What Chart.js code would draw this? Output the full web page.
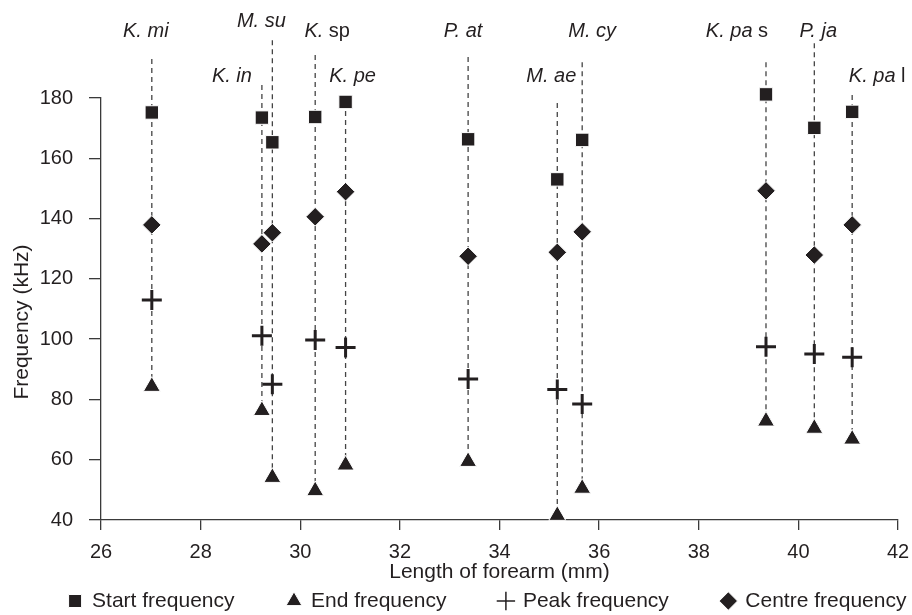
<!DOCTYPE html>
<html>
<head>
<meta charset="utf-8">
<script src="https://cdn.jsdelivr.net/npm/chart.js@4.4.1/dist/chart.umd.min.js"></script>
<style>
html,body{margin:0;padding:0;background:#ffffff;}
#wrap{width:912px;height:615px;}
</style>
</head>
<body>
<div id="wrap"><canvas id="c" width="912" height="615"></canvas></div>
<script>
// ---------- data ----------
const species     = ['K. mi','K. in','M. su','K. sp','K. pe','P. at','M. ae','M. cy','K. pa s','P. ja','K. pa l'];
const labelItalic = ['K. mi','K. in','M. su','K.','K. pe','P. at','M. ae','M. cy','K. pa','P. ja','K. pa'];
const labelRoman  = ['','','',' sp','','','','',' s','',' l'];
const forearm     = [27.02, 29.23, 29.44, 30.30, 30.91, 33.37, 35.16, 35.66, 39.35, 40.32, 41.08];
const startFreq   = [175.2, 173.5, 165.3, 173.7, 178.7, 166.3, 153.0, 166.1, 181.2, 170.1, 175.4];
const centreFreq  = [137.9, 131.6, 135.3, 140.6, 148.9, 127.5, 128.8, 135.6, 149.2, 127.9, 137.9];
const peakFreq    = [113.0, 101.1,  85.0,  99.7,  97.2,  86.8,  83.3,  78.5,  97.5,  95.1,  94.0];
const endFreq     = [ 84.3,  76.3,  54.1,  49.7,  58.2,  59.4,  41.5,  50.5,  72.8,  70.4,  66.8];
const lineTop     = [192.9, 184.3, 199.2, 194.3, 178.7, 193.6, 178.3, 191.9, 191.9, 198.2, 181.0];
const xTicks = [26, 28, 30, 32, 34, 36, 38, 40, 42];
const yTicks = [40, 60, 80, 100, 120, 140, 160, 180];

// ---------- label layout (annotation placement) ----------
const labelDx = [-6, -30, -11, 12, 7, -5, -6, 10, -29, 4, 25];          // px from line
const labelY  = [202.0, 187.2, 205.3, 202.0, 187.2, 202.0, 187.0, 202.0, 202.0, 202.0, 187.0]; // kHz

// ---------- style ----------
const INK = '#231f20';
const AX = '#3a3a3a';
const FONT = "'Liberation Sans', Arial, Helvetica, sans-serif";
const Y_TITLE = 'Frequency (kHz)';

const pts = arr => forearm.map((x, i) => ({x: x, y: arr[i]}));

const markerSets = [
  {label:'Start frequency', data: pts(startFreq), pointStyle:'rect', pointRadius:9.5,
   backgroundColor: INK, borderColor:'#ffffff', borderWidth:1, order:0, clip:false},
  {label:'End frequency', data: pts(endFreq), pointStyle:'triangle', pointRadius:9.8,
   backgroundColor: INK, borderColor:'#ffffff', borderWidth:1, order:0, clip:false},
  {label:'Peak frequency', data: pts(peakFreq), pointStyle:'cross', pointRadius:10,
   backgroundColor: INK, borderColor: INK, borderWidth:3, order:0, clip:false},
  {label:'Centre frequency', data: pts(centreFreq), pointStyle:'rectRot', pointRadius:9.3,
   backgroundColor: INK, borderColor:'#ffffff', borderWidth:1, order:0, clip:false}
];

const lineSets = species.map((s, i) => ({
  label: '_line_' + s,
  data: [{x: forearm[i], y: lineTop[i]}, {x: forearm[i], y: endFreq[i]}],
  showLine: true, borderColor: '#444444', borderWidth: 1.3, borderDash: [5, 4],
  pointRadius: 0, pointHoverRadius: 0, fill: false, order: 10, clip: false
}));

// species name labels above the dashed lines
const speciesLabels = {
  id: 'speciesLabels',
  afterDatasetsDraw(chart) {
    const {ctx, scales: {x, y}} = chart;
    ctx.save();
    ctx.fillStyle = INK;
    ctx.textBaseline = 'middle';
    ctx.textAlign = 'left';
    const fi = 'italic 20px ' + FONT, fr = '20px ' + FONT;
    labelItalic.forEach((it, i) => {
      const rom = labelRoman[i];
      ctx.font = fi; const wi = ctx.measureText(it).width;
      ctx.font = fr; const wr = rom ? ctx.measureText(rom).width : 0;
      const cx = x.getPixelForValue(forearm[i]) + labelDx[i];
      const cy = y.getPixelForValue(labelY[i]);
      const sx = cx - (wi + wr) / 2;
      ctx.font = fi; ctx.fillText(it, sx, cy);
      if (rom) { ctx.font = fr; ctx.fillText(rom, sx + wi, cy); }
    });
    ctx.restore();
  }
};

// y-axis title, placed as in the reference (slightly below the axis centre)
const yTitle = {
  id: 'yTitle',
  afterDraw(chart) {
    const {ctx} = chart;
    ctx.save();
    ctx.translate(22, 322);
    ctx.rotate(-Math.PI / 2);
    ctx.fillStyle = INK;
    ctx.font = '21px ' + FONT;
    ctx.textAlign = 'center';
    ctx.textBaseline = 'middle';
    ctx.fillText(Y_TITLE, 0, 0);
    ctx.restore();
  }
};

// nudge the legend row to the reference placement
const LEG_DX = 61.5, LEG_DY = -27.5;
const legendShift = {
  id: 'legendShift',
  afterLayout(chart) {
    const lg = chart.legend;
    if (!lg) return;
    lg.left += LEG_DX - 30; lg.right += LEG_DX + 30;
    lg.top += LEG_DY; lg.bottom += LEG_DY;
  }
};

new Chart(document.getElementById('c'), {
  type: 'scatter',
  data: { datasets: markerSets.concat(lineSets) },
  plugins: [speciesLabels, yTitle, legendShift],
  options: {
    responsive: false,
    animation: false,
    devicePixelRatio: 1,
    layout: { padding: { top: 98, right: 0, left: -60, bottom: -34 } },
    plugins: {
      tooltip: { enabled: false },
      legend: {
        position: 'bottom',
        labels: {
          usePointStyle: true,
          boxWidth: 13, boxHeight: 13,
          padding: 53,
          color: INK,
          font: { family: FONT, size: 21 },
          filter: item => !item.text.startsWith('_'),
          generateLabels(chart) {
            const items = Chart.defaults.plugins.legend.labels.generateLabels(chart);
            items.forEach(it => { if (it.pointStyle === 'cross') it.lineWidth = 1.5; });
            return items;
          }
        }
      }
    },
    scales: {
      x: {
        type: 'linear', min: 26, max: 42,
        afterBuildTicks(scale) { scale.ticks = xTicks.map(v => ({value: v})); },
        afterFit(scale) { scale.height = 45; scale.paddingRight = 14; },
        grid: { drawOnChartArea: false, drawTicks: true, tickLength: 10, color: AX, lineWidth: 1.3 },
        border: { display: true, color: AX, width: 1.3 },
        ticks: { color: INK, padding: 10, font: { family: FONT, size: 20 }, maxRotation: 0, autoSkip: false },
        title: { display: true, text: 'Length of forearm (mm)', color: INK,
                 font: { family: FONT, size: 21 }, padding: { top: 0, bottom: -19.6 } }
      },
      y: {
        type: 'linear', min: 40, max: 180,
        afterBuildTicks(scale) { scale.ticks = yTicks.map(v => ({value: v})); },
        afterFit(scale) { scale.width = 161; },
        grid: { drawOnChartArea: false, drawTicks: true, tickLength: 12, color: AX, lineWidth: 1.3 },
        border: { display: true, color: AX, width: 1.3 },
        ticks: { color: INK, padding: 16, font: { family: FONT, size: 20 } },
        title: { display: false }
      }
    }
  }
});
</script>
</body>
</html>
